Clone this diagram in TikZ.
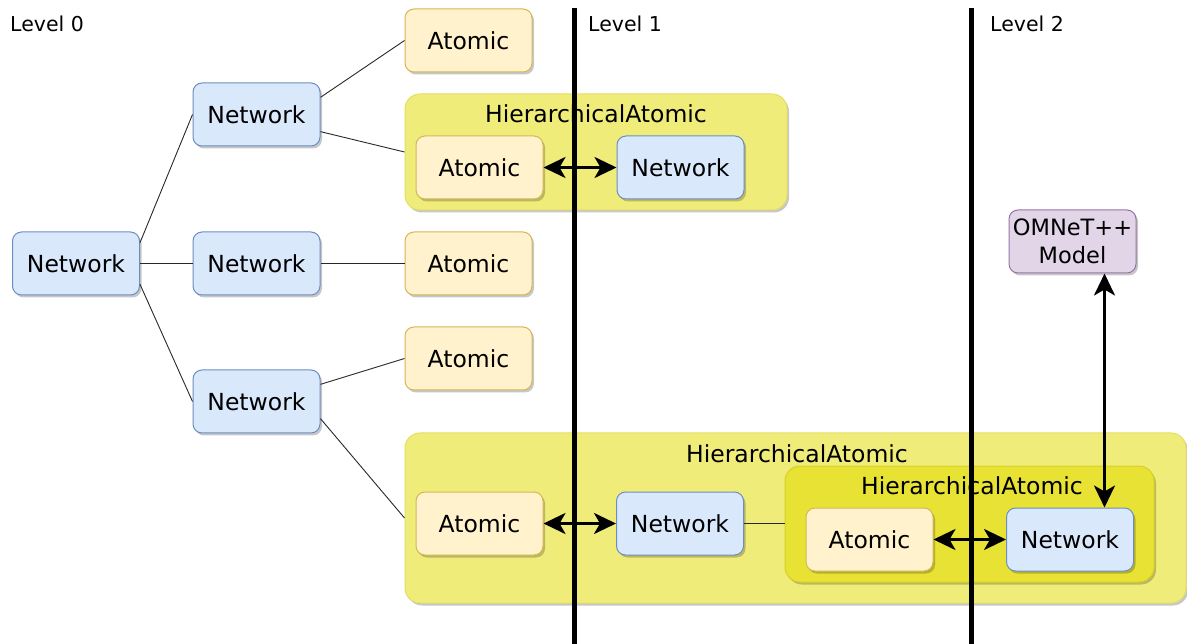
\documentclass[tikz,border=0pt]{standalone}
\usepackage{fontspec}
\setmainfont{DejaVu Sans}
\usetikzlibrary{arrows.meta,shadows}
\definecolor{netfill}{HTML}{DAE8FC}
\definecolor{netdraw}{HTML}{6C8EBF}
\definecolor{atfill}{HTML}{FFF2CC}
\definecolor{atdraw}{HTML}{D6B656}
\definecolor{hafill}{RGB}{240,236,122}
\definecolor{hadraw}{RGB}{228,222,100}
\definecolor{hbfill}{RGB}{231,226,52}
\definecolor{hbdraw}{RGB}{214,208,40}
\definecolor{omfill}{HTML}{E1D5E7}
\definecolor{omdraw}{HTML}{9673A6}
\definecolor{linec}{RGB}{40,40,40}
\tikzset{
  x=1pt,y=-1pt,
  shad/.style={drop shadow={shadow xshift=2pt,shadow yshift=-2.5pt,opacity=0.22,fill=black}},
  boxbase/.style={rounded corners=9pt,minimum width=127pt,minimum height=63pt,inner sep=0pt,
    font=\fontsize{23.5}{28}\selectfont,line width=1pt,shad,align=center},
  netbox/.style={boxbase,fill=netfill,draw=netdraw},
  atbox/.style={boxbase,fill=atfill,draw=atdraw},
  ombox/.style={boxbase,fill=omfill,draw=omdraw,font=\fontsize{22.5}{28}\selectfont},
  habox/.style={rounded corners=15pt,inner sep=0pt,fill=hafill,draw=hadraw,line width=1pt,shad},
  hbbox/.style={rounded corners=15pt,inner sep=0pt,fill=hbfill,draw=hbdraw,line width=1pt,shad},
  halabel/.style={font=\fontsize{23.5}{28}\selectfont,inner sep=0pt},
  lvl/.style={font=\fontsize{20.5}{24}\selectfont,inner sep=0pt,anchor=west},
  thin/.style={draw=linec,line width=0.9pt},
  dbl/.style={line width=3pt,{Stealth[length=22pt,width=21pt,inset=6pt]}-{Stealth[length=22pt,width=21pt,inset=6pt]}},
  levelline/.style={line width=5pt,black}
}
\begin{document}
\begin{tikzpicture}
\useasboundingbox (0,0) rectangle (1187,644);
% containers
\node[habox,minimum width=382pt,minimum height=116pt] (hat) at (596,152) {};
\node[halabel] (hatl) at (596,114) {HierarchicalAtomic};
\node[habox,minimum width=781pt,minimum height=170pt] (hab) at (795.5,518) {};
\node[halabel] (habl) at (797,454) {HierarchicalAtomic};
\node[hbbox,minimum width=369pt,minimum height=116pt] (hai) at (969.5,524) {};
\node[halabel] (hail) at (972,486) {HierarchicalAtomic};
% level 0 and 1 nodes
\node[netbox] (root) at (76,263.5) {Network};
\node[netbox] (n1) at (256.5,114.5) {Network};
\node[netbox] (n2) at (256.5,263.5) {Network};
\node[netbox] (n3) at (256.5,401.5) {Network};
\node[atbox] (a1) at (468.5,40.5) {Atomic};
\node[atbox] (a2) at (468.5,263.5) {Atomic};
\node[atbox] (a3) at (468.5,358.5) {Atomic};
% inside top HA
\node[atbox] (ta) at (479.5,167.5) {Atomic};
\node[netbox] (tn) at (680.5,167.5) {Network};
% inside big HA
\node[atbox] (ba) at (479.5,523.5) {Atomic};
\node[netbox] (bn) at (680,523.5) {Network};
\node[atbox] (ia) at (869.5,539.5) {Atomic};
\node[netbox] (in) at (1070,539.5) {Network};
\node[ombox] (om) at (1072.5,241.5) {OMNeT++\\Model};
% thin connectors
\draw[thin] (root.18) -- (n1.west);
\draw[thin] (root.east) -- (n2.west);
\draw[thin] (root.-18) -- (n3.west);
\draw[thin] (n1.15) -- (a1.west);
\draw[thin] (n1.-15) -- (hat.west);
\draw[thin] (n2.east) -- (a2.west);
\draw[thin] (n3.15) -- (a3.west);
\draw[thin] (n3.-15) -- (hab.west);
\draw[thin] (bn.east) -- (bn.east -| hai.west);
% double arrows
\draw[dbl] (ta.east) -- (tn.west);
\draw[dbl] (ba.east) -- (bn.west);
\draw[dbl] (ia.east) -- (in.west);
\coordinate (omb) at ([xshift=32pt]om.south);
\coordinate (int) at (omb |- in.north);
\draw[dbl] (omb) -- (int);
% level lines
\coordinate (l1t) at (574.5,8);
\coordinate (l1b) at (574.5,644);
\coordinate (l2t) at (971.5,8);
\coordinate (l2b) at (971.5,644);
\draw[levelline] (l1t) -- (l1b);
\draw[levelline] (l2t) -- (l2b);
\node[lvl] (lv0) at (10,24) {Level 0};
\node[lvl] (lv1) at (588,24) {Level 1};
\node[lvl] (lv2) at (990,24) {Level 2};
\end{tikzpicture}
\end{document}
